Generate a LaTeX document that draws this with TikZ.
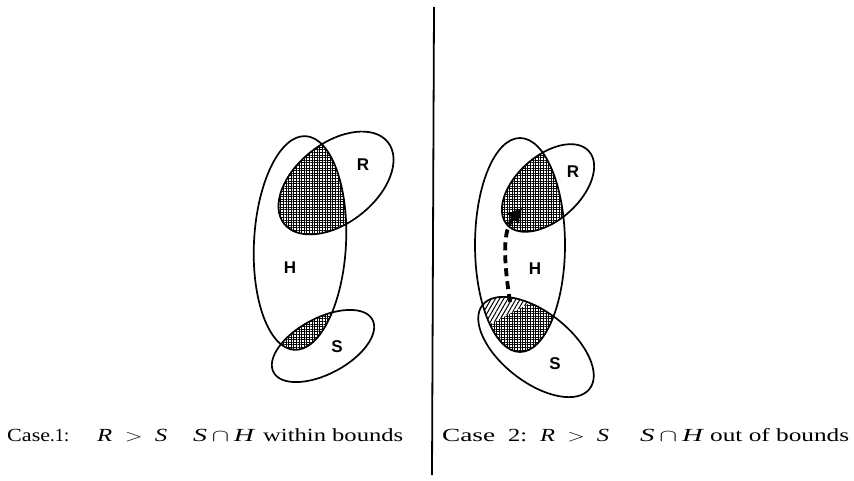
\documentclass[tikz,border=0pt]{standalone}
\usepackage{fontspec}
\setmainfont{Liberation Serif}
\newfontfamily\labelfont{Liberation Sans}
\usetikzlibrary{patterns.meta,arrows.meta}

% caption piece stretched to a given width, height kept
\newcommand{\wide}[2]{\resizebox{#1}{\height}{#2}}

\begin{document}
\begin{tikzpicture}[x=1pt,y=1pt,
  outline/.style={line width=1.7pt},
  gridfill/.style={pattern={Hatch[distance=2.6pt,line width=0.75pt]}},
  linefill/.style={pattern={Lines[angle=60,distance=3.6pt,line width=1pt]}},
  lab/.style={font=\labelfont\bfseries\fontsize{17}{17}\selectfont},
  captext/.style={anchor=base west,inner sep=0pt,font=\fontsize{18.5}{20}\selectfont},
  move/.style={line width=3.8pt,dash pattern=on 8pt off 5pt,-{Triangle[length=14pt,width=14pt]}},
  ]
\useasboundingbox (0,0) rectangle (854,480);

% ---------- Case 1 ----------
\begin{scope}
  \clip[rotate around={-3:(300,237)}] (300,237) ellipse [x radius=46pt, y radius=107pt];
  \fill[gridfill,rotate around={38:(336,297)}] (336,297) ellipse [x radius=66pt, y radius=40pt];
  \fill[gridfill,rotate around={28:(323,134)}] (323,134) ellipse [x radius=56pt, y radius=28pt];
\end{scope}
\draw[outline,rotate around={-3:(300,237)}] (300,237) ellipse [x radius=46pt, y radius=107pt];
\draw[outline,rotate around={38:(336,297)}] (336,297) ellipse [x radius=66pt, y radius=40pt];
\draw[outline,rotate around={28:(323,134)}] (323,134) ellipse [x radius=56pt, y radius=28pt];
\node[lab] (r1) at (363,315) {R};
\node[lab] (h1) at (290,212) {H};
\node[lab] (s1) at (337,133) {S};

% ---------- Case 2 ----------
\begin{scope}
  \clip (520,235) ellipse [x radius=45pt, y radius=107pt];
  \fill[gridfill,rotate around={42:(548,292)}] (548,292) ellipse [x radius=55pt, y radius=32pt];
  \begin{scope}
    \clip[rotate around={-38:(536,133)}] (536,133) ellipse [x radius=68pt, y radius=35pt];
    \fill[gridfill] (460,60) rectangle (600,200);
    \clip (460,140) -- (560,193) -- (560,240) -- (460,240) -- cycle;
    \fill[white] (460,60) rectangle (600,240);
    \fill[linefill] (460,60) rectangle (600,240);
  \end{scope}
\end{scope}
\draw[outline] (520,235) ellipse [x radius=45pt, y radius=107pt];
\draw[outline,rotate around={42:(548,292)}] (548,292) ellipse [x radius=55pt, y radius=32pt];
\draw[outline,rotate around={-38:(536,133)}] (536,133) ellipse [x radius=68pt, y radius=35pt];
\node[lab] (r2) at (573,308) {R};
\node[lab] (h2) at (535,211) {H};
\node[lab] (s2) at (555,116) {S};

% movement of the S part out of bounds
\coordinate (mvfrom) at (510,178);
\coordinate (mvto) at (522,272);
\draw[move] (mvfrom) .. controls (503,225) and (503,250) .. (mvto);

% ---------- divider ----------
\coordinate (divtop) at (434,473);
\coordinate (divbot) at (432,5);
\draw[line width=1.8pt] (divtop) -- (divbot);

% ---------- captions ----------
\node[captext] (c1a) at (7,39)   {\wide{43pt}{Case}.1:};
\node[captext] (c1b) at (97,39)  {\wide{70pt}{\textit{R}\enspace$>$\enspace\textit{S}}};
\node[captext] (c1c) at (193,39) {\wide{62pt}{\textit{S}\,$\cap$\,\textit{H}}};
\node[captext] (c1d) at (263,39) {\wide{140pt}{within bounds}};

\node[captext] (c2a) at (442,39) {\wide{53pt}{Case}};
\node[captext] (c2b) at (508,39) {\wide{19pt}{2:}};
\node[captext] (c2c) at (540,39) {\wide{69pt}{\textit{R}\enspace$>$\enspace\textit{S}}};
\node[captext] (c2d) at (640,39) {\wide{64pt}{\textit{S}\,$\cap$\,\textit{H}}};
\node[captext] (c2e) at (710,39) {\wide{139pt}{out of bounds}};
\end{tikzpicture}
\end{document}
